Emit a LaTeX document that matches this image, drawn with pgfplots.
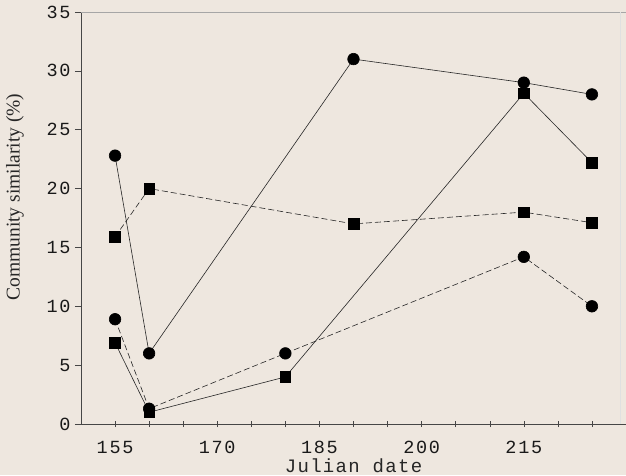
\documentclass[border=0pt]{standalone}
\usepackage{pgfplots}
\pgfplotsset{compat=1.18}
\usepackage{fontspec}
\setmainfont{Liberation Serif}
\newfontfamily\tickfont[LetterSpace=9]{Liberation Mono}
\newfontfamily\labfont[LetterSpace=7]{Liberation Mono}
\definecolor{bg}{RGB}{238,231,223}
\definecolor{ax}{RGB}{70,70,70}
\begin{document}
\begin{tikzpicture}
\fill[bg] (-81pt,-51pt) rectangle (545pt,424pt);
\begin{axis}[
  at={(0,0)}, anchor=south west,
  scale only axis, width=545pt, height=412pt,
  xmin=150, xmax=230, ymin=0, ymax=35,
  axis x line*=bottom, axis y line*=left,
  axis line style={ax, line width=0.6pt},
  xtick={155,170,185,200,215}, minor xtick={160,165,175,180,190,195,205,210,220,225},
  ytick={0,5,...,35},
  x tick style={ax, line width=0.5pt}, y tick style={ax, line width=0.5pt},
  xtick align=center, ytick align=outside,
  major tick length=6pt, minor tick length=6pt,
  /pgf/number format/assume math mode=true,
  ticklabel style={font=\tickfont\fontsize{18.5}{18.5}\selectfont, text=black!90},
  xticklabel style={inner sep=0pt, text height=12.5pt, text depth=0pt, yshift=-14pt},
  yticklabel style={xshift=-1pt},
  xlabel={Julian date},
  xlabel style={font=\labfont\fontsize{19}{19}\selectfont, text=black!85, inner sep=0pt, text height=13pt, text depth=0pt, at={(axis description cs:0.5,0)}, anchor=north, yshift=-35pt},
  ylabel={Community similarity (\%)},
  ylabel style={font=\fontsize{19.5}{19.5}\selectfont, text=black!85, at={(axis description cs:-0.121,0.551)}, anchor=center, rotate=0},
  clip=false,
]
\draw[black!35, line width=0.6pt] (rel axis cs:0,1) -- (rel axis cs:1,1);
\draw[black!12, line width=0.6pt] (rel axis cs:0.99,0) -- (rel axis cs:0.99,1);
% solid circles
\addplot[black!85, line width=0.6pt, mark=*, mark size=5.8pt, mark options={solid, fill=black, draw=black}]
  coordinates {(155,22.8) (160,6) (190,31) (215,29) (225,28)};
% solid squares
\addplot[black!85, line width=0.6pt, mark=square*, mark size=5.3pt, mark options={solid, fill=black, draw=black}]
  coordinates {(155,6.9) (160,1.0) (180,4.0) (215,28.1) (225,22.2)};
% dashed squares
\addplot[black!85, line width=0.6pt, dash pattern=on 6pt off 3pt, mark=square*, mark size=5.3pt, mark options={solid, fill=black, draw=black}]
  coordinates {(155,15.9) (160,20) (190,17) (215,18) (225,17.1)};
% dashed circles
\addplot[black!85, line width=0.6pt, dash pattern=on 6pt off 3pt, mark=*, mark size=5.8pt, mark options={solid, fill=black, draw=black}]
  coordinates {(155,8.9) (160,1.3) (180,6) (215,14.2) (225,10)};
\end{axis}
\pgfresetboundingbox
\path[use as bounding box] (-81pt,-51pt) rectangle (545pt,424pt);
\end{tikzpicture}
\end{document}
